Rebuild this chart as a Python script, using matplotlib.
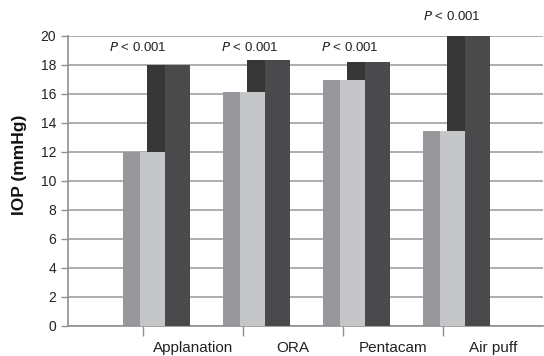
import numpy as np
import matplotlib as mpl
mpl.use('Agg')
import matplotlib.pyplot as plt

categories = ['Applanation', 'ORA', 'Pentacam', 'Air puff']
low_a = [12.0, 16.1, 16.95, 13.45]   # medium gray
low_b = [12.0, 16.1, 16.95, 13.45]   # light gray
high_a = [18.0, 18.3, 18.2, 20.0]    # black
high_b = [18.0, 18.3, 18.2, 20.0]    # dark gray
p_labels = ['P < 0.001'] * 4

plt.rcParams['font.family'] = ['Liberation Sans', 'DejaVu Sans']

fig = plt.figure(figsize=(5.44, 3.56), dpi=100)
ax = fig.add_axes([0.125, 0.085, 0.873, 0.815])

x = np.arange(1, len(categories) + 1)

# overlapping bars, drawn back to front
ax.bar(x - 0.20, low_a, width=0.25, align='edge', color='#98989c', zorder=2)
ax.bar(x + 0.04, high_a, width=0.25, align='edge', color='#363636', zorder=2)
ax.bar(x - 0.03, low_b, width=0.25, align='edge', color='#c5c6c8', zorder=3)
ax.bar(x + 0.22, high_b, width=0.255, align='edge', color='#4a4a4c', zorder=3)

# P values above each group
p_dx = [-0.05, 0.07, 0.07, 0.09]
for i, lab in enumerate(p_labels):
    y = high_a[i] + 1.3 if high_a[i] >= 19.5 else 19.15
    ax.text(x[i] + p_dx[i], y, '$P$' + lab[1:], ha='center', va='center',
            fontsize=9.5, color='#222222', clip_on=False)

ax.set_ylim(0, 20)
ax.set_xlim(0.25, 5.0)
ax.set_yticks(np.arange(0, 21, 2))
ax.yaxis.grid(True, color='#a0a0a0', linewidth=1.2, zorder=0)
ax.set_axisbelow(True)

ax.set_xticks(x)
ax.set_xticklabels([])
ax.set_xticks(x + 0.5, minor=True)
ax.set_xticklabels(categories, minor=True, fontsize=11, color='#222222')
ax.tick_params(axis='x', which='major', length=7, color='#909090', width=1)
ax.tick_params(axis='x', which='minor', length=0, pad=11)
ax.tick_params(axis='y', length=5, color='#909090', width=1,
               labelsize=10, labelcolor='#222222')

for s in ['top', 'right']:
    ax.spines[s].set_visible(False)
for s in ['left', 'bottom']:
    ax.spines[s].set_color('#909090')
    ax.spines[s].set_linewidth(1.2)

ax.set_ylabel('IOP (mmHg)', fontsize=12.5, fontweight='bold', color='#111111')
ax.yaxis.set_label_coords(-0.086, 0.555)

plt.savefig('out.png', dpi=100)
plt.close('all')
